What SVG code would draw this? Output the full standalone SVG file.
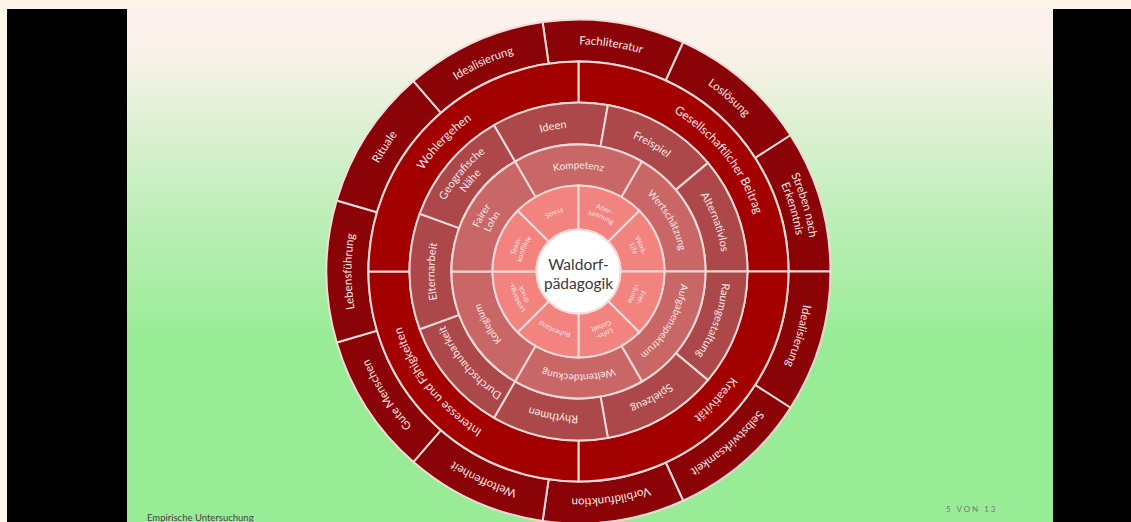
<svg xmlns="http://www.w3.org/2000/svg" xmlns:xlink="http://www.w3.org/1999/xlink" width="1131" height="522" viewBox="0 0 1131 522">
<style>
.r1{fill:#f2837f}
.r2{fill:#c86766}
.r3{fill:#ac4849}
.r4{fill:#a30000}
.r5{fill:#8a0306}
.seg{stroke:#f5dada;stroke-width:2}
text{font-family:Lato,"Open Sans","Liberation Sans",sans-serif}
.t{fill:#fbe8e8;text-anchor:middle}
.t5{font-size:11.5px}
.t4{font-size:12px}
.t3{font-size:11px}
.t2{font-size:10px}
.t1{font-size:7px}
.center{font-size:15.5px;fill:#3a3a3a;text-anchor:middle}
.foot{font-size:9.5px;fill:#444}
.page{font-size:8px;fill:#777;letter-spacing:2px}
</style>
<defs>
<linearGradient id="bg" gradientUnits="userSpaceOnUse" x1="0" y1="9" x2="0" y2="340">
<stop offset="0" stop-color="#fdf1ee"/>
<stop offset="0.12" stop-color="#faf2ea"/>
<stop offset="0.55" stop-color="#c6efbf"/>
<stop offset="1" stop-color="#98ec96"/>
</linearGradient>
<path id="sec5" d="M507.50,29.71 A252,252 0 0 1 649.50,29.71 L637.66,70.01 A210,210 0 0 0 519.34,70.01 Z"/>
<path id="sec4" d="M430.01,123.01 A210,210 0 0 1 726.99,123.01 L698.00,152.00 A169,169 0 0 0 459.00,152.00 Z"/>
<path id="sec3" d="M520.70,112.69 A169,169 0 0 1 636.30,112.69 L621.94,152.16 A127,127 0 0 0 535.06,152.16 Z"/>
<path id="sec2" d="M515.00,161.52 A127,127 0 0 1 642.00,161.52 L621.50,197.02 A86,86 0 0 0 535.50,197.02 Z"/>
<path id="sec1" d="M545.59,192.05 A86,86 0 0 1 611.41,192.05 L594.57,232.70 A42,42 0 0 0 562.43,232.70 Z"/>
<path id="a5" d="M352.36,251.72 A227,227 0 0 1 804.64,251.72"/>
<path id="a5a" d="M345.89,251.15 A233.5,233.5 0 0 1 811.11,251.15"/>
<path id="a5b" d="M358.84,252.28 A220.5,220.5 0 0 1 798.16,252.28"/>
<path id="a4" d="M393.71,255.33 A185.5,185.5 0 0 1 763.29,255.33"/>
<path id="a3" d="M435.05,258.95 A144,144 0 0 1 721.95,258.95"/>
<path id="a3a" d="M428.08,258.34 A151,151 0 0 1 728.93,258.34"/>
<path id="a3b" d="M441.03,259.47 A138,138 0 0 1 715.98,259.47"/>
<path id="a2" d="M475.89,262.52 A103,103 0 0 1 681.11,262.52"/>
<path id="a2a" d="M469.92,262.00 A109,109 0 0 1 687.09,262.00"/>
<path id="a2b" d="M481.87,263.05 A97,97 0 0 1 675.13,263.05"/>
<path id="a1" d="M517.23,266.14 A61.5,61.5 0 0 1 639.77,266.14"/>
<path id="a1a" d="M513.25,265.79 A65.5,65.5 0 0 1 643.75,265.79"/>
<path id="a1b" d="M521.22,266.49 A57.5,57.5 0 0 1 635.78,266.49"/>
</defs>

<rect x="0" y="0" width="1131" height="522" fill="#fdf5ea"/>
<rect x="127" y="9" width="926" height="513" fill="url(#bg)"/>
<rect x="7" y="9" width="120" height="513" fill="#000"/>
<rect x="1053" y="9" width="78" height="513" fill="#000"/>

<!-- Ring 5 (outer) -->
<g id="r5-fachliteratur" transform="rotate(8.18 578.5 271.5)"><use href="#sec5" class="r5 seg"/><text class="t t5"><textPath href="#a5" startOffset="50%">Fachliteratur</textPath></text></g>
<g id="r5-losloesung" transform="rotate(40.91 578.5 271.5)"><use href="#sec5" class="r5 seg"/><text class="t t5"><textPath href="#a5" startOffset="50%">Loslösung</textPath></text></g>
<g id="r5-streben" transform="rotate(73.64 578.5 271.5)"><use href="#sec5" class="r5 seg"/><text class="t t5"><textPath href="#a5a" startOffset="50%">Streben nach</textPath></text><text class="t t5"><textPath href="#a5b" startOffset="50%">Erkenntnis</textPath></text></g>
<g id="r5-idealisierung-2" transform="rotate(106.36 578.5 271.5)"><use href="#sec5" class="r5 seg"/><text class="t t5"><textPath href="#a5" startOffset="50%">Idealisierung</textPath></text></g>
<g id="r5-selbstwirksamkeit" transform="rotate(139.09 578.5 271.5)"><use href="#sec5" class="r5 seg"/><text class="t t5"><textPath href="#a5" startOffset="50%">Selbstwirksamkeit</textPath></text></g>
<g id="r5-vorbildfunktion" transform="rotate(171.82 578.5 271.5)"><use href="#sec5" class="r5 seg"/><text class="t t5"><textPath href="#a5" startOffset="50%">Vorbildfunktion</textPath></text></g>
<g id="r5-weltoffenheit" transform="rotate(204.55 578.5 271.5)"><use href="#sec5" class="r5 seg"/><text class="t t5"><textPath href="#a5" startOffset="50%">Weltoffenheit</textPath></text></g>
<g id="r5-gute-menschen" transform="rotate(237.27 578.5 271.5)"><use href="#sec5" class="r5 seg"/><text class="t t5"><textPath href="#a5" startOffset="50%">Gute Menschen</textPath></text></g>
<g id="r5-lebensfuehrung" transform="rotate(270 578.5 271.5)"><use href="#sec5" class="r5 seg"/><text class="t t5"><textPath href="#a5" startOffset="50%">Lebensführung</textPath></text></g>
<g id="r5-rituale" transform="rotate(302.73 578.5 271.5)"><use href="#sec5" class="r5 seg"/><text class="t t5"><textPath href="#a5" startOffset="50%">Rituale</textPath></text></g>
<g id="r5-idealisierung-1" transform="rotate(335.45 578.5 271.5)"><use href="#sec5" class="r5 seg"/><text class="t t5"><textPath href="#a5" startOffset="50%">Idealisierung</textPath></text></g>

<!-- Ring 4 -->
<g id="r4-gesellschaftlicher-beitrag"><use href="#sec4" class="r4 seg" transform="rotate(45 578.5 271.5)"/><text class="t t4" transform="rotate(51.5 578.5 271.5)"><textPath href="#a4" startOffset="50%">Gesellschaftlicher Beitrag</textPath></text></g>
<g id="r4-kreativitaet"><use href="#sec4" class="r4 seg" transform="rotate(135 578.5 271.5)"/><text class="t t4" transform="rotate(133 578.5 271.5)"><textPath href="#a4" startOffset="50%">Kreativität</textPath></text></g>
<g id="r4-interesse"><use href="#sec4" class="r4 seg" transform="rotate(225 578.5 271.5)"/><text class="t t4" transform="rotate(232 578.5 271.5)"><textPath href="#a4" startOffset="50%">Interesse und Fähigkeiten</textPath></text></g>
<g id="r4-wohlergehen"><use href="#sec4" class="r4 seg" transform="rotate(315 578.5 271.5)"/><text class="t t4" transform="rotate(314 578.5 271.5)"><textPath href="#a4" startOffset="50%">Wohlergehen</textPath></text></g>

<!-- Ring 3 -->
<g id="r3-ideen" transform="rotate(350 578.5 271.5)"><use href="#sec3" class="r3 seg"/><text class="t t3"><textPath href="#a3" startOffset="50%">Ideen</textPath></text></g>
<g id="r3-freispiel" transform="rotate(30 578.5 271.5)"><use href="#sec3" class="r3 seg"/><text class="t t3"><textPath href="#a3" startOffset="50%">Freispiel</textPath></text></g>
<g id="r3-alternativlos" transform="rotate(70 578.5 271.5)"><use href="#sec3" class="r3 seg"/><text class="t t3"><textPath href="#a3" startOffset="50%">Alternativlos</textPath></text></g>
<g id="r3-raumgestaltung" transform="rotate(110 578.5 271.5)"><use href="#sec3" class="r3 seg"/><text class="t t3"><textPath href="#a3" startOffset="50%">Raumgestaltung</textPath></text></g>
<g id="r3-spielzeug" transform="rotate(150 578.5 271.5)"><use href="#sec3" class="r3 seg"/><text class="t t3"><textPath href="#a3" startOffset="50%">Spielzeug</textPath></text></g>
<g id="r3-rhythmen" transform="rotate(190 578.5 271.5)"><use href="#sec3" class="r3 seg"/><text class="t t3"><textPath href="#a3" startOffset="50%">Rhythmen</textPath></text></g>
<g id="r3-durchschaubarkeit" transform="rotate(230 578.5 271.5)"><use href="#sec3" class="r3 seg"/><text class="t t3"><textPath href="#a3" startOffset="50%">Durchschaubarkeit</textPath></text></g>
<g id="r3-elternarbeit" transform="rotate(270 578.5 271.5)"><use href="#sec3" class="r3 seg"/><text class="t t3"><textPath href="#a3" startOffset="50%">Elternarbeit</textPath></text></g>
<g id="r3-geografische-naehe" transform="rotate(310 578.5 271.5)"><use href="#sec3" class="r3 seg"/><text class="t t3"><textPath href="#a3a" startOffset="50%">Geografische</textPath></text><text class="t t3"><textPath href="#a3b" startOffset="50%">Nähe</textPath></text></g>

<!-- Ring 2 -->
<g id="r2-kompetenz" transform="rotate(0 578.5 271.5)"><use href="#sec2" class="r2 seg"/><text class="t t2"><textPath href="#a2" startOffset="50%">Kompetenz</textPath></text></g>
<g id="r2-wertschaetzung" transform="rotate(60 578.5 271.5)"><use href="#sec2" class="r2 seg"/><text class="t t2"><textPath href="#a2" startOffset="50%">Wertschätzung</textPath></text></g>
<g id="r2-aufgabenspektrum" transform="rotate(120 578.5 271.5)"><use href="#sec2" class="r2 seg"/><text class="t t2"><textPath href="#a2" startOffset="50%">Aufgabenspektrum</textPath></text></g>
<g id="r2-weltentdeckung" transform="rotate(180 578.5 271.5)"><use href="#sec2" class="r2 seg"/><text class="t t2"><textPath href="#a2" startOffset="50%">Weltentdeckung</textPath></text></g>
<g id="r2-kollegium" transform="rotate(240 578.5 271.5)"><use href="#sec2" class="r2 seg"/><text class="t t2"><textPath href="#a2" startOffset="50%">Kollegium</textPath></text></g>
<g id="r2-fairer-lohn" transform="rotate(300 578.5 271.5)"><use href="#sec2" class="r2 seg"/><text class="t t2"><textPath href="#a2a" startOffset="50%">Fairer</textPath></text><text class="t t2"><textPath href="#a2b" startOffset="50%">Lohn</textPath></text></g>

<!-- Ring 1 -->
<g id="r1-stress" transform="rotate(337.5 578.5 271.5)"><use href="#sec1" class="r1 seg"/><text class="t t1"><textPath href="#a1" startOffset="50%">Stress</textPath></text></g>
<g id="r1-anerkennung" transform="rotate(22.5 578.5 271.5)"><use href="#sec1" class="r1 seg"/><text class="t t1"><textPath href="#a1a" startOffset="50%">Aner-</textPath></text><text class="t t1"><textPath href="#a1b" startOffset="50%">kennung</textPath></text></g>
<g id="r1-work-life" transform="rotate(67.5 578.5 271.5)"><use href="#sec1" class="r1 seg"/><text class="t t1"><textPath href="#a1a" startOffset="50%">Work-</textPath></text><text class="t t1"><textPath href="#a1b" startOffset="50%">Life</textPath></text></g>
<g id="r1-freiraeume" transform="rotate(112.5 578.5 271.5)"><use href="#sec1" class="r1 seg"/><text class="t t1"><textPath href="#a1a" startOffset="50%">Frei-</textPath></text><text class="t t1"><textPath href="#a1b" startOffset="50%">räume</textPath></text></g>
<g id="r1-lohn" transform="rotate(157.5 578.5 271.5)"><use href="#sec1" class="r1 seg"/><text class="t t1"><textPath href="#a1a" startOffset="50%">Lohn-</textPath></text><text class="t t1"><textPath href="#a1b" startOffset="50%">Gehalt</textPath></text></g>
<g id="r1-ruhestand" transform="rotate(202.5 578.5 271.5)"><use href="#sec1" class="r1 seg"/><text class="t t1"><textPath href="#a1" startOffset="50%">Ruhestand</textPath></text></g>
<g id="r1-leistungsdruck" transform="rotate(247.5 578.5 271.5)"><use href="#sec1" class="r1 seg"/><text class="t t1"><textPath href="#a1a" startOffset="50%">Leistungs-</textPath></text><text class="t t1"><textPath href="#a1b" startOffset="50%">druck</textPath></text></g>
<g id="r1-team" transform="rotate(292.5 578.5 271.5)"><use href="#sec1" class="r1 seg"/><text class="t t1"><textPath href="#a1a" startOffset="50%">Team-</textPath></text><text class="t t1"><textPath href="#a1b" startOffset="50%">konflikte</textPath></text></g>

<!-- Center -->
<g id="center">
<circle cx="578.5" cy="271.5" r="42" fill="#ffffff" stroke="#f5dada" stroke-width="2"/>
<text class="center" x="578.5" y="270">Waldorf-</text>
<text class="center" x="578.5" y="289">pädagogik</text>
</g>

<text class="foot" x="147" y="521">Empirische Untersuchung</text>
<text class="page" x="946" y="512">5 VON 13</text>
</svg>
